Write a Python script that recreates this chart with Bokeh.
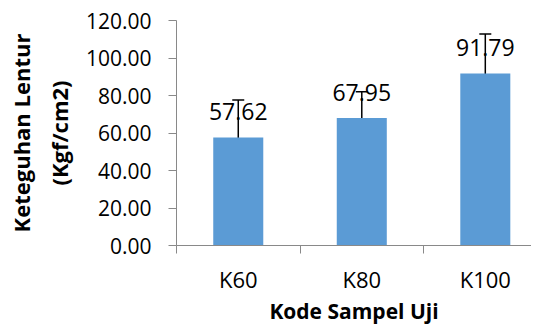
from bokeh.plotting import figure
from bokeh.models import ColumnDataSource, Whisker, TeeHead, FixedTicker, Range1d, NumeralTickFormatter
from bokeh.core.properties import value
from bokeh.embed import file_html
from bokeh.resources import INLINE

categories = ["K60", "K80", "K100"]
means = [57.62, 67.95, 91.79]
errors = [20.0, 14.1, 21.0]
value_labels = ["57.62", "67.95", "91.79"]
y_ticks = [0, 20, 40, 60, 80, 100, 120]

xs = [i + 0.5 for i in range(len(categories))]
src = ColumnDataSource(dict(
    x=xs,
    top=means,
    upper=[m + e for m, e in zip(means, errors)],
    lower=[m - e for m, e in zip(means, errors)],
    label=value_labels,
))

FONT = "Open Sans"
GRAY = "#898989"

p = figure(width=531, height=327, output_backend="svg", toolbar_location=None,
           x_range=Range1d(0, 2.874), y_range=Range1d(0, 120),
           min_border_left=176, min_border_right=0, min_border_top=20, min_border_bottom=82)
p.outline_line_color = None
p.xgrid.visible = False
p.ygrid.visible = False

p.vbar(x="x", top="top", bottom=0, width=0.405, source=src,
       fill_color="#5b9bd5", line_color=None)

whisk = Whisker(source=src, base="x", upper="upper", lower="lower", dimension="height",
                line_color="black", line_width=1.5,
                upper_head=TeeHead(size=12, line_color="black", line_width=1.5),
                lower_head=TeeHead(size=12, line_color="black", line_width=1.5))
p.add_layout(whisk)

p.text(x="x", y="top", text="label", source=src, y_offset=-26,
       text_align="center", text_baseline="middle",
       text_font=value(FONT), text_font_size="23px", text_color="black")

# x axis
xa = p.xaxis[0]
xa.ticker = FixedTicker(ticks=xs, minor_ticks=[0, 1, 2, 3])
xa.major_label_overrides = {x: c for x, c in zip(xs, categories)}
xa.major_tick_line_color = None
xa.major_tick_out = 0
xa.major_tick_in = 0
xa.minor_tick_line_color = GRAY
xa.minor_tick_out = 8
xa.minor_tick_in = 0
xa.axis_line_color = GRAY
xa.major_label_text_font = FONT
xa.major_label_text_font_size = "22px"
xa.major_label_text_color = "black"
xa.major_label_standoff = 10
xa.axis_label = "Kode Sampel Uji"
xa.axis_label_text_font = FONT
xa.axis_label_text_font_style = "bold"
xa.axis_label_text_font_size = "21px"
xa.axis_label_text_color = "black"
xa.axis_label_standoff = 0

# y axis
ya = p.yaxis[0]
ya.ticker = FixedTicker(ticks=y_ticks)
ya.formatter = NumeralTickFormatter(format="0.00")
ya.minor_tick_line_color = None
ya.major_tick_in = 0
ya.major_tick_out = 8
ya.major_tick_line_color = GRAY
ya.axis_line_color = GRAY
ya.major_label_text_font = FONT
ya.major_label_text_font_size = "21px"
ya.major_label_text_color = "black"
ya.major_label_standoff = 17
ya.axis_label = "Keteguhan Lentur\n(Kgf/cm2)"
ya.axis_label_text_font = FONT
ya.axis_label_text_font_style = "bold"
ya.axis_label_text_font_size = "22px"
ya.axis_label_text_color = "black"
ya.axis_label_text_line_height = 1.25
ya.axis_label_standoff = 9

open("out.html", "w").write(file_html(p, INLINE))
